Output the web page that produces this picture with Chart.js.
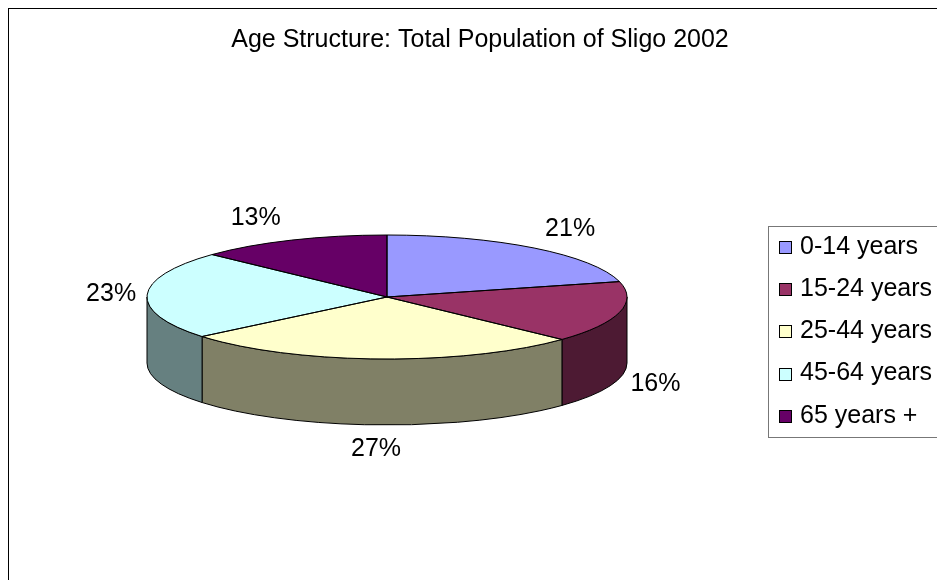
<!DOCTYPE html>
<html>
<head>
<meta charset="utf-8">
<script src="https://cdn.jsdelivr.net/npm/chart.js@4/dist/chart.umd.min.js"></script>
<style>
  html, body { margin: 0; background: #fff; }
  #wrap { width: 937px; height: 580px; }
</style>
</head>
<body>
<div id="wrap"><canvas id="pie" width="937" height="580"></canvas></div>
<script>
const chartTitle = 'Age Structure: Total Population of Sligo 2002';
const labels = ['0-14 years', '15-24 years', '25-44 years', '45-64 years', '65 years +'];
const shares = [21, 16, 27, 23, 13];
const topColors = ['#9999FF', '#993366', '#FFFFCC', '#CCFFFF', '#660066'];
const sideColors = ['#4D4D80', '#4D1A33', '#808066', '#668080', '#330033'];

const FONT = '"Liberation Sans", Arial, sans-serif';
const TILT = 62 / 240;   // vertical squash of the top face
const DEPTH = 66;        // height of the pie wall

function arcProps(arc) {
  return arc.getProps(['x', 'y', 'startAngle', 'endAngle', 'outerRadius'], true);
}

// draws the pie as a tilted disc with a front wall, using the arcs chart.js laid out
const pie3d = {
  id: 'pie3d',
  beforeDatasetsDraw(chart) {
    const ctx = chart.ctx;
    const arcs = chart.getDatasetMeta(0).data;
    ctx.save();
    ctx.lineWidth = 1;
    ctx.strokeStyle = '#000';

    // front wall, only the part facing us (0..PI)
    arcs.forEach((arc, i) => {
      const p = arcProps(arc);
      const lo = Math.max(p.startAngle, 0);
      const hi = Math.min(p.endAngle, Math.PI);
      if (lo >= hi) return;
      const ry = p.outerRadius * TILT;
      ctx.beginPath();
      ctx.ellipse(p.x, p.y, p.outerRadius, ry, 0, lo, hi);
      ctx.ellipse(p.x, p.y + DEPTH, p.outerRadius, ry, 0, hi, lo, true);
      ctx.closePath();
      ctx.fillStyle = sideColors[i];
      ctx.fill();
      ctx.stroke();
    });

    // top faces
    arcs.forEach(arc => {
      const { x, y } = arc.getProps(['x', 'y'], true);
      ctx.save();
      ctx.translate(x, y);
      ctx.scale(1, TILT);
      ctx.translate(-x, -y);
      arc.draw(ctx);
      ctx.restore();
    });

    // outlines (path built in squashed space, stroked at 1px)
    arcs.forEach(arc => {
      const p = arcProps(arc);
      ctx.save();
      ctx.translate(p.x, p.y);
      ctx.scale(1, TILT);
      ctx.beginPath();
      ctx.moveTo(0, 0);
      ctx.arc(0, 0, p.outerRadius, p.startAngle, p.endAngle);
      ctx.closePath();
      ctx.restore();
      ctx.stroke();
    });
    ctx.restore();
    return false;
  },
  afterDraw(chart) {
    const ctx = chart.ctx;
    const arcs = chart.getDatasetMeta(0).data;
    const total = shares.reduce((a, b) => a + b, 0);
    ctx.save();

    // outer chart frame
    ctx.strokeStyle = '#000';
    ctx.lineWidth = 1;
    ctx.strokeRect(8.5, 8.5, 2000, 2000);

    // title
    ctx.fillStyle = '#000';
    ctx.font = '25px ' + FONT;
    ctx.textAlign = 'center';
    ctx.textBaseline = 'middle';
    ctx.fillText(chartTitle, 480, 40);

    // percentage labels
    arcs.forEach((arc, i) => {
      const p = arcProps(arc);
      const mid = (p.startAngle + p.endAngle) / 2;
      const c = Math.cos(mid), s = Math.sin(mid);
      const ex = p.x + p.outerRadius * c;
      const ey = p.y + p.outerRadius * TILT * s + (s > 0 ? DEPTH : 0);
      const lx = ex + 36 * Math.max(-1, Math.min(1, c * 3));
      const ly = ey + 24 * s;
      ctx.fillText(Math.round(shares[i] / total * 100) + '%', lx, ly);
    });

    // legend
    ctx.strokeStyle = '#777';
    ctx.strokeRect(768.5, 226.5, 400, 211);
    ctx.textAlign = 'left';
    labels.forEach((lab, i) => {
      const cy = 247 + i * 42.2;
      const by = Math.round(cy - 6) + 0.5;
      ctx.fillStyle = topColors[i];
      ctx.fillRect(779.5, by, 12, 12);
      ctx.strokeStyle = '#000';
      ctx.strokeRect(779.5, by, 12, 12);
      ctx.fillStyle = '#000';
      ctx.fillText(lab, 800, cy);
    });
    ctx.restore();
  }
};

new Chart(document.getElementById('pie'), {
  type: 'pie',
  data: {
    labels: labels,
    datasets: [{
      data: shares,
      backgroundColor: topColors,
      borderWidth: 0,
      hoverOffset: 0
    }]
  },
  options: {
    responsive: false,
    animation: false,
    events: [],
    radius: 240,
    layout: { padding: { left: 147, right: 310, top: 57, bottom: 43 } },
    plugins: {
      legend: { display: false },
      tooltip: { enabled: false },
      title: { display: false }
    }
  },
  plugins: [pie3d]
});
</script>
</body>
</html>
